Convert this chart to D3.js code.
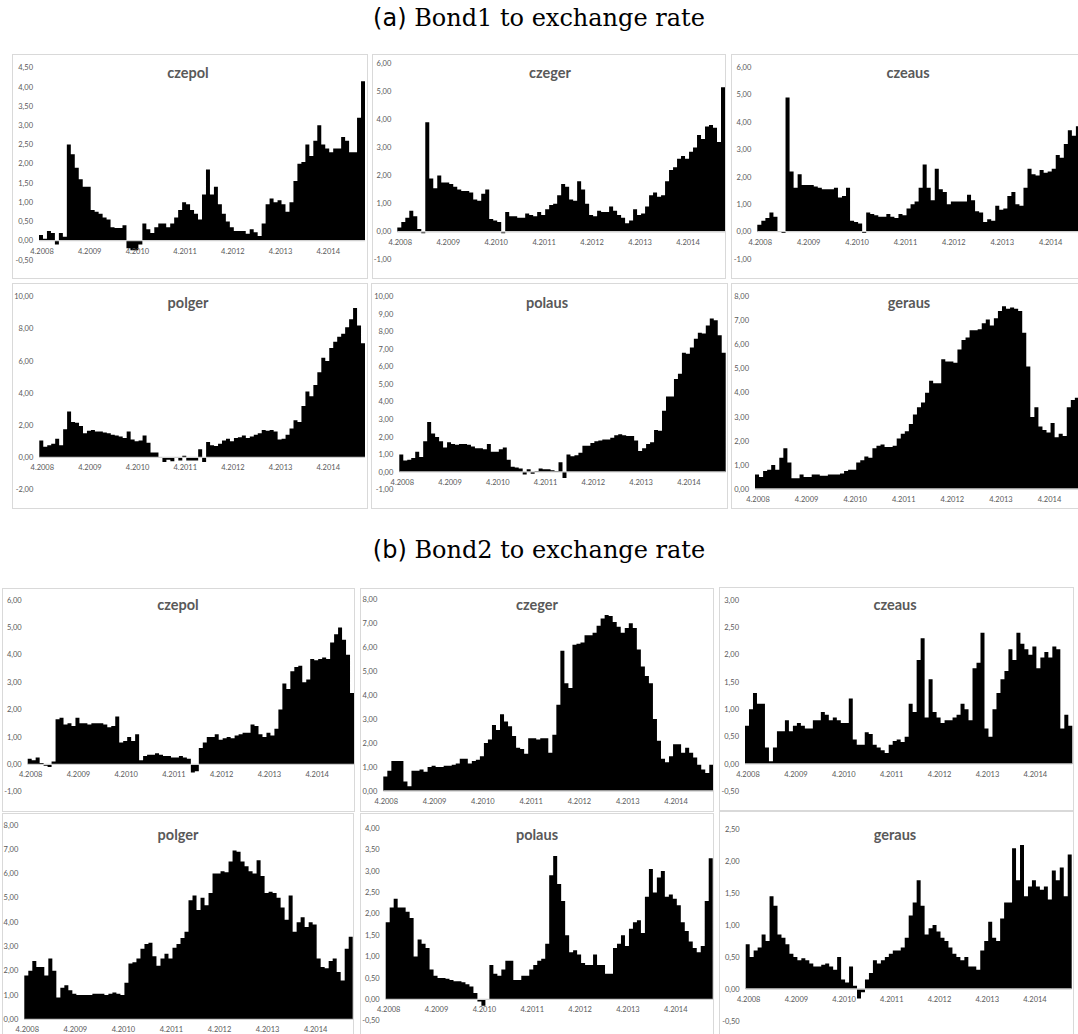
<!DOCTYPE html>
<html>
<head>
<meta charset="utf-8">
<script src="https://cdn.jsdelivr.net/npm/d3@7"></script>
<style>
  body { margin: 0; background: #fff; }
  svg { display: block; }
</style>
</head>
<body>
<svg id="fig" width="1078" height="1034"></svg>
<script>
// monthly values, 4.2008 onwards (82 months)
const nMonths = 82;
const tickLabels = ["4.2008", "4.2009", "4.2010", "4.2011", "4.2012", "4.2013", "4.2014"];
const pairNames = ["czepol", "czeger", "czeaus", "polger", "polaus", "geraus"];

// (a) Bond1 to exchange rate
const a_czepol = [0.15,0.05,0.25,0.2,-0.1,0.2,0.1,2.5,2.25,1.9,
  1.6,1.4,1.4,0.8,0.75,0.7,0.6,0.55,0.35,0.33,
  0.33,0.4,-0.2,-0.25,-0.25,-0.1,0.45,0.3,0.2,0.35,
  0.45,0.45,0.35,0.45,0.6,0.8,1.0,0.95,0.8,0.7,
  0.55,1.2,1.85,1.2,1.4,0.95,0.7,0.5,0.35,0.25,
  0.25,0.25,0.18,0.3,0.22,0.12,0.45,0.95,1.1,1.0,
  1.05,0.95,0.75,1.0,1.55,2.0,2.05,2.5,2.2,2.6,
  3.0,2.5,2.4,2.3,2.4,2.4,2.7,2.6,2.3,2.3,
  3.2,4.15];
const a_czeger = [0.15,0.35,0.5,0.75,0.55,0.1,-0.05,3.9,1.9,1.55,
  2.0,1.75,1.75,1.7,1.6,1.5,1.45,1.45,1.4,1.15,
  1.1,1.35,1.5,0.45,0.4,0.35,-0.05,0.7,0.55,0.55,
  0.5,0.5,0.65,0.6,0.55,0.7,0.6,0.8,0.95,1.0,
  1.3,1.7,1.6,1.15,1.1,1.8,1.5,1.0,0.6,0.55,
  0.75,0.7,0.7,0.9,0.75,0.6,0.5,0.3,0.4,0.8,
  0.6,0.65,0.9,1.3,1.4,1.25,1.3,1.8,2.2,2.3,
  2.6,2.7,2.6,2.85,3.0,3.45,3.3,3.75,3.8,3.7,
  3.2,5.15];
const a_czeaus = [0.25,0.4,0.5,0.7,0.55,0.0,-0.05,4.9,2.2,1.6,
  2.1,1.7,1.7,1.7,1.65,1.6,1.55,1.55,1.55,1.6,
  1.25,1.3,1.6,0.4,0.35,0.3,-0.05,0.7,0.65,0.6,
  0.55,0.55,0.65,0.55,0.5,0.65,0.6,0.85,1.0,1.1,
  1.6,2.45,1.6,1.15,2.3,1.55,1.45,1.0,1.1,1.1,
  1.1,1.1,1.35,1.15,0.75,0.7,0.35,0.45,0.4,0.95,
  0.8,0.85,1.3,1.45,1.0,0.95,1.6,2.3,2.1,2.05,
  2.25,2.15,2.2,2.3,2.8,2.7,3.2,3.7,3.5,3.85,
  3.3,3.5];
const a_polger = [1.05,0.65,0.75,0.85,1.15,0.75,1.75,2.85,2.2,2.15,
  1.95,1.5,1.65,1.7,1.6,1.6,1.55,1.5,1.4,1.35,
  1.3,1.2,1.6,1.1,1.0,1.05,1.35,0.9,0.3,0.3,
  0.0,-0.3,-0.15,-0.25,-0.05,-0.2,0.1,-0.2,-0.2,-0.2,
  0.5,-0.3,0.95,0.75,0.7,0.85,1.05,1.15,1.0,1.2,
  1.25,1.35,1.2,1.3,1.4,1.5,1.7,1.65,1.7,1.6,
  1.1,1.15,1.4,1.8,2.3,2.2,3.2,4.1,3.8,4.5,
  5.3,6.2,6.0,6.8,7.2,7.5,7.7,8.1,8.6,9.3,
  8.2,7.1];
const a_polaus = [1.0,0.65,0.7,0.8,1.15,0.85,1.75,2.85,2.2,2.0,
  1.75,1.4,1.7,1.6,1.55,1.6,1.6,1.55,1.45,1.35,
  1.35,1.3,1.6,1.15,1.15,1.3,1.4,0.7,0.3,0.25,
  0.2,-0.15,0.15,-0.1,0.05,0.2,0.15,0.15,0.1,0.05,
  0.55,-0.35,1.0,0.9,0.95,1.1,1.5,1.5,1.65,1.75,
  1.8,1.85,1.85,1.95,2.1,2.15,2.1,2.05,2.05,1.8,
  1.2,1.35,1.6,1.7,2.4,2.35,3.5,4.3,4.3,5.3,
  5.6,6.8,6.75,7.1,7.6,7.95,7.9,8.35,8.75,8.65,
  7.8,6.8];
const a_geraus = [0.6,0.5,0.75,0.8,1.0,0.8,1.3,1.7,1.1,0.45,
  0.45,0.6,0.5,0.5,0.6,0.6,0.55,0.55,0.6,0.6,
  0.6,0.65,0.75,0.8,0.8,1.1,1.2,1.35,1.3,1.7,
  1.8,1.85,1.75,1.75,1.8,2.1,2.3,2.4,2.7,3.1,
  3.4,3.6,4.0,4.5,4.4,4.4,5.4,5.3,5.3,5.25,
  5.8,6.2,6.3,6.6,6.6,6.65,6.9,7.05,6.8,7.1,
  7.4,7.6,7.5,7.55,7.5,7.4,6.5,5.1,3.0,3.4,
  2.6,2.45,2.35,2.75,2.15,2.3,2.2,3.4,3.7,3.8,
  4.2,3.9];

// (b) Bond2 to exchange rate
const b_czepol = [0.2,0.15,0.25,0.05,-0.05,-0.1,0.1,1.65,1.7,1.45,
  1.5,1.4,1.7,1.5,1.5,1.45,1.5,1.5,1.5,1.45,
  1.35,1.4,1.75,0.8,0.85,1.0,0.85,1.1,0.15,0.3,
  0.35,0.35,0.4,0.35,0.3,0.3,0.25,0.25,0.3,0.25,
  0.2,-0.3,-0.25,0.6,0.8,1.0,1.0,1.1,0.9,0.95,
  1.0,0.95,1.05,1.1,1.15,1.15,1.45,1.4,1.1,1.0,
  1.15,1.05,1.3,2.0,2.95,2.75,3.4,3.55,3.6,3.0,
  3.1,3.85,3.8,3.85,3.9,3.85,4.45,4.75,5.0,4.55,
  4.0,2.6];
const b_czeger = [0.6,0.85,1.25,1.25,1.25,0.4,0.2,0.85,0.85,0.9,
  0.8,1.0,1.05,1.0,1.0,1.05,1.05,1.1,1.15,1.35,
  1.35,1.15,1.25,1.3,1.45,2.0,2.15,2.75,2.55,3.2,
  2.9,2.7,2.3,1.8,1.75,1.55,2.2,2.2,2.15,2.2,
  2.2,1.6,2.35,3.6,5.85,4.5,4.3,6.1,6.15,6.2,
  6.5,6.5,6.6,6.9,7.2,7.35,7.3,7.05,6.85,6.6,
  6.8,7.0,6.8,5.9,5.2,4.8,4.5,3.0,2.1,1.35,
  1.2,1.45,1.95,1.95,1.6,1.8,1.6,1.4,1.1,0.9,
  0.75,1.1];
const b_czeaus = [0.7,1.0,1.3,1.1,1.1,0.3,0.05,0.3,0.6,0.6,
  0.8,0.6,0.7,0.75,0.7,0.65,0.65,0.8,0.8,0.95,
  0.9,0.8,0.85,0.8,0.75,0.75,1.2,0.45,0.35,0.35,
  0.58,0.55,0.35,0.3,0.25,0.2,0.35,0.42,0.45,0.4,
  0.5,1.1,0.95,1.9,2.3,0.85,1.55,0.95,0.85,0.75,
  0.8,0.8,0.85,0.9,1.1,1.0,0.8,1.75,1.85,2.4,
  0.65,0.5,1.0,1.3,1.55,1.7,2.1,1.9,2.4,2.2,
  2.1,2.0,2.15,1.75,1.95,2.05,1.95,2.15,2.1,0.65,
  0.9,0.7];
const b_polger = [1.8,2.0,2.4,2.15,2.15,1.8,2.5,2.0,0.9,1.3,
  1.4,1.2,1.05,1.0,1.0,1.0,1.0,1.05,1.05,1.05,
  1.0,1.05,1.1,1.05,1.0,1.5,2.3,2.35,2.5,2.9,
  3.1,3.15,2.6,2.2,2.5,2.7,2.5,2.95,3.1,3.35,
  3.6,4.9,5.1,4.5,5.0,4.7,5.2,6.0,6.0,6.1,
  6.05,6.5,6.95,6.9,6.5,6.3,6.1,6.0,6.55,5.9,
  5.2,5.25,5.2,5.0,4.6,4.1,5.1,3.6,4.0,4.2,
  3.8,4.0,3.9,2.5,2.15,2.1,2.4,2.5,1.95,1.6,
  2.9,3.4];
const b_polaus = [1.8,2.15,2.35,2.15,2.15,2.05,1.9,1.0,1.4,1.3,
  1.2,0.7,0.55,0.5,0.5,0.48,0.45,0.42,0.42,0.4,
  0.35,0.3,0.15,-0.05,-0.15,0.0,0.8,0.6,0.55,0.7,
  0.9,0.9,0.45,0.45,0.55,0.55,0.7,0.8,0.9,0.95,
  1.3,2.9,3.35,2.7,2.3,1.5,1.1,1.15,1.05,0.85,
  0.8,0.8,1.05,0.8,0.8,0.6,0.6,1.2,1.3,1.5,
  1.25,1.65,1.8,1.85,1.55,2.4,3.05,2.5,2.85,3.0,
  2.4,2.45,2.35,2.2,1.8,1.6,1.35,1.2,1.1,1.25,
  2.3,3.3];
const b_geraus = [0.7,0.5,0.6,0.65,0.85,0.75,1.45,1.3,0.85,0.8,
  0.7,0.55,0.5,0.45,0.48,0.45,0.4,0.35,0.35,0.38,
  0.4,0.35,0.3,0.5,0.15,0.1,0.35,0.05,-0.15,-0.05,
  0.15,0.25,0.45,0.4,0.45,0.5,0.55,0.6,0.6,0.65,
  0.8,1.15,1.35,1.7,1.3,0.85,0.95,1.0,0.9,0.8,
  0.75,0.65,0.55,0.5,0.45,0.5,0.35,0.35,0.3,0.6,
  0.75,1.05,0.8,0.75,1.1,1.35,1.35,2.2,1.7,2.25,
  1.45,1.6,1.7,1.6,1.55,1.6,1.4,1.85,1.7,1.9,
  1.45,2.1];

// panel layout: frame box, plot x range, y domain / pixel range, tick step, title spot
const panels = [
  { data: a_czepol, name: pairNames[0], box: [12, 54, 367, 278],  xr: [39, 365],      yDom: [-0.5, 4.5], yr: [259.9, 67.7], step: 0.5, title: [188, 73] },
  { data: a_czeger, name: pairNames[1], box: [372, 54, 725, 278], xr: [397.3, 725],   yDom: [-1, 6],     yr: [259.8, 63.3], step: 1,   title: [550, 73] },
  { data: a_czeaus, name: pairNames[2], box: [731, 54, 1086, 278], xr: [757.3, 1088], yDom: [-1, 6],     yr: [259.1, 67.3], step: 1,   title: [908, 73] },
  { data: a_polger, name: pairNames[3], box: [12, 283, 367, 508], xr: [39.3, 365],    yDom: [-2, 10],    yr: [489.4, 296.7], step: 2,  title: [188, 303] },
  { data: a_polaus, name: pairNames[4], box: [371, 283, 727, 508], xr: [399.3, 725.7], yDom: [-1, 10],   yr: [489.5, 296.7], step: 1,  title: [547, 303] },
  { data: a_geraus, name: pairNames[5], box: [731, 283, 1086, 508], xr: [755, 1087],  yDom: [0, 8],      yr: [489, 296.7], step: 1,    title: [909, 303] },
  { data: b_czepol, name: pairNames[0], box: [2, 588, 354, 811],  xr: [27.7, 354],    yDom: [-1, 6],     yr: [791.7, 600], step: 1,    title: [178, 605] },
  { data: b_czeger, name: pairNames[1], box: [360, 588, 713, 811], xr: [383.3, 713.3], yDom: [0, 8],     yr: [791, 599.3], step: 1,    title: [537, 605] },
  { data: b_czeaus, name: pairNames[2], box: [719, 587, 1073, 810], xr: [745, 1072.3], yDom: [-0.5, 3],  yr: [791.3, 600], step: 0.5,  title: [895, 605] },
  { data: b_polger, name: pairNames[3], box: [2, 813, 353, 1040], xr: [24.3, 352.7],  yDom: [0, 8],      yr: [1019.3, 825], step: 1,   title: [178, 835] },
  { data: b_polaus, name: pairNames[4], box: [360, 813, 713, 1040], xr: [385.7, 712.7], yDom: [-0.5, 4], yr: [1020.7, 828.3], step: 0.5, title: [537, 835] },
  { data: b_geraus, name: pairNames[5], box: [719, 811, 1073, 1040], xr: [745.7, 1071.7], yDom: [-0.5, 2.5], yr: [1021, 829], step: 0.5, title: [895, 835] }
];

const fmt = d3.formatLocale({ decimal: ",", thousands: ".", grouping: [3], currency: ["", ""], minus: "-" }).format(".2f");
const svg = d3.select("#fig");
const axisFont = "Lato, 'Open Sans', sans-serif";
const grey = "#595959";

// figure captions
function caption(letter, text, yy) {
  const t = svg.append("text")
    .attr("x", 539).attr("y", yy)
    .attr("text-anchor", "middle")
    .style("font-size", "24px")
    .style("fill", "#000");
  t.append("tspan").style("font-family", "'DejaVu Sans', sans-serif").text("(" + letter + ") ");
  t.append("tspan").style("font-family", "'DejaVu Serif', serif").text(text);
}
caption("a", "Bond1 to exchange rate", 26);
caption("b", "Bond2 to exchange rate", 558);

panels.forEach((p, k) => {
  const [bx0, by0, bx1, by1] = p.box;
  const g = svg.append("g");

  const clipId = "clip" + k;
  svg.append("clipPath").attr("id", clipId)
    .append("rect").attr("x", bx0).attr("y", by0).attr("width", bx1 - bx0).attr("height", by1 - by0);

  g.append("rect")
    .attr("x", bx0 + 0.5).attr("y", by0 + 0.5)
    .attr("width", bx1 - bx0).attr("height", by1 - by0)
    .attr("fill", "#fff").attr("stroke", "#d9d9d9");

  const x = d3.scaleLinear().domain([0, nMonths]).range(p.xr);
  const y = d3.scaleLinear().domain(p.yDom).range(p.yr);

  const pts = p.data.map((v, i) => [i, v]);
  pts.push([p.data.length, p.data[p.data.length - 1]]);

  const area = d3.area()
    .curve(d3.curveStepAfter)
    .x(d => x(d[0]))
    .y0(y(0))
    .y1(d => y(d[1]));

  const inner = g.append("g").attr("clip-path", `url(#${clipId})`);
  inner.append("path").datum(pts).attr("d", area).attr("fill", "#000");

  // horizontal axis at zero
  inner.append("line")
    .attr("x1", x(0)).attr("x2", x(nMonths))
    .attr("y1", y(0)).attr("y2", y(0))
    .attr("stroke", "#d0d0d0").attr("stroke-width", 1.3);

  // y tick labels
  const yt = d3.range(p.yDom[0], p.yDom[1] + p.step / 2, p.step);
  inner.selectAll(".yl").data(yt).enter().append("text")
    .attr("x", p.xr[0] - 6)
    .attr("y", d => y(d))
    .attr("dy", "0.35em")
    .attr("text-anchor", "end")
    .style("font-family", axisFont)
    .style("font-size", "7.5px")
    .style("fill", grey)
    .text(d => fmt(d));

  // x tick labels, one per year
  inner.selectAll(".xl").data(tickLabels).enter().append("text")
    .attr("x", (d, i) => x(i * 12) + 3)
    .attr("y", y(0) + 13)
    .attr("text-anchor", "middle")
    .style("font-family", axisFont)
    .style("font-size", "7.5px")
    .style("fill", grey)
    .text(d => d);

  inner.append("text")
    .attr("x", p.title[0]).attr("y", p.title[1])
    .attr("dy", "0.35em")
    .attr("text-anchor", "middle")
    .style("font-family", axisFont)
    .style("font-weight", "bold")
    .style("font-size", "14.5px")
    .style("fill", grey)
    .text(p.name);
});
</script>
</body>
</html>
